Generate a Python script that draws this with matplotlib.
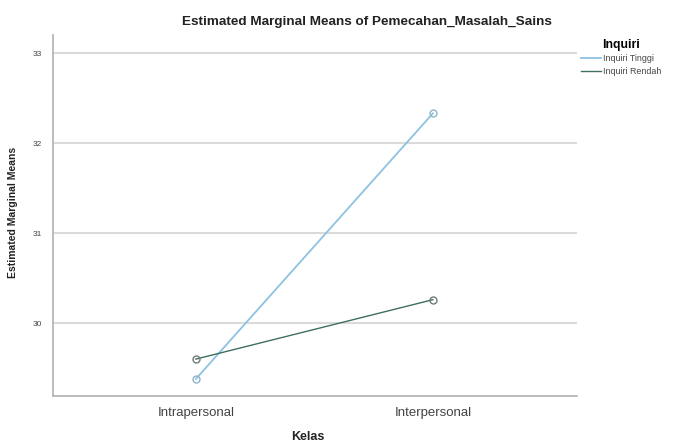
import matplotlib
matplotlib.use("Agg")
import matplotlib.pyplot as plt

plt.rcParams['font.family'] = ['Liberation Sans', 'DejaVu Sans']

# 데이터
kelas = ["Intrapersonal", "Interpersonal"]
inquiri_tinggi = [29.38, 32.33]
inquiri_rendah = [29.60, 30.26]
y_ticks = [30, 31, 32, 33]

fig = plt.figure(figsize=(6.79, 4.46), dpi=100)
ax = fig.add_axes([53 / 679, 1 - 396 / 446, 524 / 679, 361 / 446])

x = list(range(len(kelas)))
ax.plot(x, inquiri_tinggi, color="#8cc2e2", lw=1.3, marker="o", ms=5,
        mfc="none", mec="#8fb3cc", mew=1.0, label="Inquiri Tinggi", zorder=3)
ax.plot(x, inquiri_rendah, color="#3f6f60", lw=1.0, marker="o", ms=5,
        mfc="none", mec="#707a78", mew=1.0, label="Inquiri Rendah", zorder=3)

ax.set_xlim(-0.603, 1.608)
ax.set_ylim(29.19, 33.2)
ax.set_xticks(x)
ax.set_xticklabels(kelas, fontsize=9.5, color="#444444")
ax.set_yticks(y_ticks)
ax.set_yticklabels([str(t) for t in y_ticks], fontsize=6, color="#444444")
ax.tick_params(length=0, pad=8)

# 가로 그리드
ax.grid(axis="y", color="#dadada", lw=1.5)
ax.set_axisbelow(True)
for side in ["top", "right"]:
    ax.spines[side].set_visible(False)
for side in ["left", "bottom"]:
    ax.spines[side].set_color("#b0b0b0")
    ax.spines[side].set_linewidth(1.2)

fig.text(367 / 679, 1 - 22 / 446, "Estimated Marginal Means of Pemecahan_Masalah_Sains",
         fontsize=9.7, fontweight="bold", color="#222222", ha="center", va="center")
fig.text(308 / 679, 1 - 437 / 446, "Kelas", fontsize=9, fontweight="bold",
         color="#222222", ha="center", va="center")
fig.text(13 / 679, 1 - 212 / 446, "Estimated Marginal Means", fontsize=7.5,
         fontweight="bold", color="#222222", ha="center", va="center", rotation=90)

leg = fig.legend(title="Inquiri", loc="upper left",
                 bbox_to_anchor=(573 / 679, 1 - 31 / 446),
                 frameon=False, fontsize=6.4, handlelength=2.2, handletextpad=0.3,
                 labelspacing=0.38, title_fontproperties={"weight": "bold", "size": 8.8})
for h in leg.legend_handles:
    h.set_marker("")
for t in leg.get_texts():
    t.set_color("#444444")

plt.savefig("out.png", dpi=100)
plt.close()
